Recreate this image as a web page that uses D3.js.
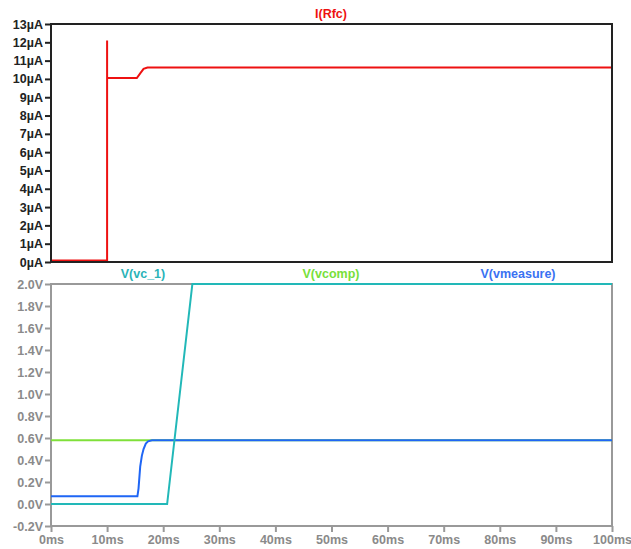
<!DOCTYPE html>
<html><head><meta charset="utf-8">
<script src="https://cdn.jsdelivr.net/npm/d3@7"></script>
<style>
html,body{margin:0;padding:0;background:#fff;}
svg{display:block;font-family:"Liberation Sans",Arial,sans-serif;font-weight:bold;}
</style></head>
<body>
<svg id="chart" width="631" height="549"></svg>
<script>
// ---- data ----
const iTimeMs = [0, 10, 10, 10, 15.3, 15.9, 16.5, 17.2, 100];
const iRfc_uA = [0.08, 0.08, 12.1, 10.05, 10.05, 10.3, 10.55, 10.62, 10.62];

const vc1TimeMs = [0, 20.7, 25.2, 100];
const vc1V = [0, 0, 2.0, 2.0];

const vcompTimeMs = [0, 18, 100];
const vcompV = [0.58, 0.58, 0.58];

const vmeasTimeMs = [0, 15.4, 15.6, 15.9, 16.2, 16.5, 16.9, 17.3, 18.0, 100];
const vmeasV = [0.07, 0.07, 0.14, 0.34, 0.44, 0.50, 0.55, 0.57, 0.58, 0.58];

const xTicks = [0,10,20,30,40,50,60,70,80,90,100];
const xTickLabels = ["0ms","10ms","20ms","30ms","40ms","50ms","60ms","70ms","80ms","90ms","100ms"];
const iTicks = [0,1,2,3,4,5,6,7,8,9,10,11,12,13];
const iTickLabels = ["0µA","1µA","2µA","3µA","4µA","5µA","6µA","7µA","8µA","9µA","10µA","11µA","12µA","13µA"];
const vTicks = [-0.2,0,0.2,0.4,0.6,0.8,1.0,1.2,1.4,1.6,1.8,2.0];
const vTickLabels = ["-0.2V","0.0V","0.2V","0.4V","0.6V","0.8V","1.0V","1.2V","1.4V","1.6V","1.8V","2.0V"];

const svg = d3.select("#chart");
const L = 51, R = 612;
const top1 = 24, bot1 = 262;
const top2 = 284, bot2 = 526;

const x = d3.scaleLinear().domain([0,100]).range([L,R]);
const yI = d3.scaleLinear().domain([0,13]).range([bot1,top1]);
const yV = d3.scaleLinear().domain([-0.2,2.0]).range([bot2,top2]);

const defs = svg.append("defs");
defs.append("clipPath").attr("id","c1").append("rect").attr("x",L).attr("y",top1).attr("width",R-L).attr("height",bot1-top1);
defs.append("clipPath").attr("id","c2").append("rect").attr("x",L).attr("y",top2-2).attr("width",R-L).attr("height",bot2-top2+2);

// ---- top panel ----
const axI = d3.axisLeft(yI).tickValues(iTicks).tickFormat((d,i)=>iTickLabels[i]).tickSize(6).tickPadding(2);
const gI = svg.append("g").attr("transform",`translate(${L},0)`).call(axI);
gI.select(".domain").remove();
gI.selectAll("line").attr("stroke","#222").attr("stroke-width",2);
gI.selectAll("text").attr("fill","#222").style("font-size","12.5px").style("font-family","'Liberation Sans',Arial,sans-serif").style("font-weight","bold");

const line1 = d3.line().x((d,i)=>x(iTimeMs[i])).y(d=>yI(d));
svg.append("path").datum(iRfc_uA).attr("d",line1).attr("fill","none")
  .attr("stroke","#ee1111").attr("stroke-width",2).attr("clip-path","url(#c1)");

svg.append("rect").attr("x",L).attr("y",top1).attr("width",R-L).attr("height",bot1-top1)
  .attr("fill","none").attr("stroke","#222").attr("stroke-width",2);

svg.append("text").attr("x",331).attr("y",18).attr("text-anchor","middle")
  .attr("fill","#ee1111").style("font-size","12.5px").text("I(Rfc)");

// ---- bottom panel ----
svg.append("rect").attr("x",L).attr("y",top2).attr("width",R-L).attr("height",bot2-top2)
  .attr("fill","none").attr("stroke","#999").attr("stroke-width",2);

const axV = d3.axisLeft(yV).tickValues(vTicks).tickFormat((d,i)=>vTickLabels[i]).tickSize(6).tickPadding(2);
const gV = svg.append("g").attr("transform",`translate(${L},0)`).call(axV);
gV.select(".domain").remove();
gV.selectAll("line").attr("stroke","#999").attr("stroke-width",2);
gV.selectAll("text").attr("fill","#8a8a8a").style("font-size","12.5px").style("font-family","'Liberation Sans',Arial,sans-serif").style("font-weight","bold");

const axX = d3.axisBottom(x).tickValues(xTicks).tickFormat((d,i)=>xTickLabels[i]).tickSize(6).tickPadding(3);
const gX = svg.append("g").attr("transform",`translate(0,${bot2})`).call(axX);
gX.select(".domain").remove();
gX.selectAll("line").attr("stroke","#999").attr("stroke-width",2);
gX.selectAll("text").attr("fill","#8a8a8a").style("font-size","12.5px").style("font-family","'Liberation Sans',Arial,sans-serif").style("font-weight","bold");

function vline(ts, vs, color){
  const ln = d3.line().x((d,i)=>x(ts[i])).y(d=>yV(d));
  svg.append("path").datum(vs).attr("d",ln).attr("fill","none")
    .attr("stroke",color).attr("stroke-width",2).attr("clip-path","url(#c2)");
}
vline(vcompTimeMs, vcompV, "#7fe03a");
vline(vmeasTimeMs, vmeasV, "#1f66f5");
vline(vc1TimeMs, vc1V, "#22b8b8");

const legends = [
  {t:"V(vc_1)", x:143, c:"#2ab3b8"},
  {t:"V(vcomp)", x:331, c:"#78e03a"},
  {t:"V(vmeasure)", x:518, c:"#3a72f2"}
];
svg.selectAll(".lg").data(legends).enter().append("text")
  .attr("x",d=>d.x).attr("y",278).attr("text-anchor","middle")
  .attr("fill",d=>d.c).style("font-size","12.5px").text(d=>d.t);
</script>
</body></html>
